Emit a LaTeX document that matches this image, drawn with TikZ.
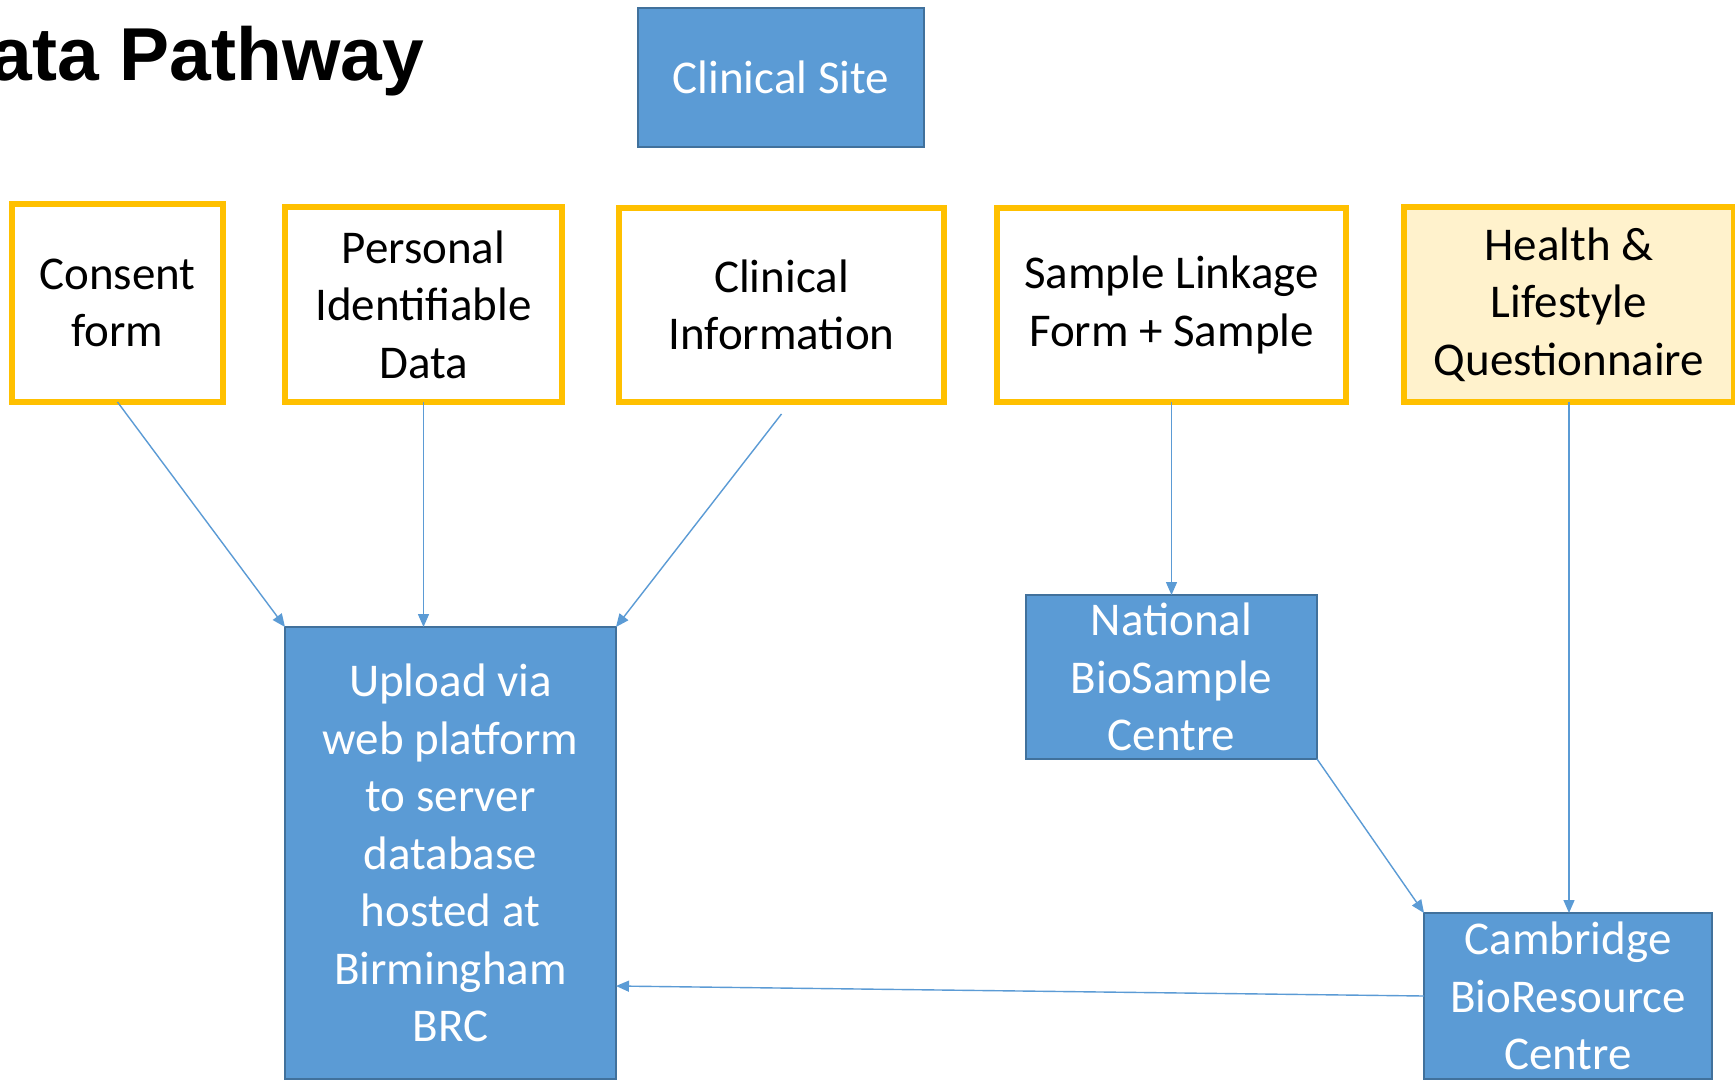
\documentclass[tikz,border=0pt]{standalone}
\usepackage{fontspec}
\setmainfont{Carlito}
\newfontfamily\titlefont{Liberation Sans}
\usetikzlibrary{arrows.meta}
\definecolor{boxblue}{HTML}{5B9BD5}
\definecolor{boxblueline}{HTML}{41719C}
\definecolor{goldline}{HTML}{FFC000}
\definecolor{paleyellow}{HTML}{FFF2CC}
\begin{document}
\begin{tikzpicture}[x=0.5pt,y=-0.5pt,
  txt/.style={font=\fontsize{23.5}{28.75}\selectfont, align=center, inner sep=0pt, outer sep=0pt},
  yellowbox/.style={txt, draw=goldline, line width=3pt, fill=white, text=black},
  bluebox/.style={txt, draw=boxblueline, line width=1pt, fill=boxblue, text=white},
  conn/.style={draw=boxblue, line width=0.7pt, -{Triangle[length=6.5pt,width=5.5pt]}}
]
\useasboundingbox (0,0) rectangle (1735,1082);
\fill[white] (0,0) rectangle (1735,1082);

\node[anchor=base west, inner sep=0pt, font=\titlefont\bfseries\fontsize{37.5}{45}\selectfont] (title) at (-64,80) {Data Pathway};

\node[bluebox, minimum width=143pt, minimum height=69.5pt] (site) at (781,77.5) {Clinical Site};

\node[yellowbox, minimum width=105.5pt, minimum height=99pt] (consent) at (117.5,303) {Consent\\form};
\node[yellowbox, minimum width=138.5pt, minimum height=97.5pt] (pid) at (423.5,304.5) {Personal\\Identifiable\\Data};
\node[yellowbox, minimum width=162.5pt, minimum height=97pt] (clin) at (781.5,305) {Clinical\\Information};
\node[yellowbox, minimum width=174.5pt, minimum height=97pt] (sample) at (1171.5,305) {Sample Linkage\\Form + Sample};
\node[yellowbox, fill=paleyellow, minimum width=165pt, minimum height=97.5pt] (health) at (1569,304.5) {Health \&\\Lifestyle\\Questionnaire};

\node[bluebox, minimum width=165.5pt, minimum height=226pt] (upload) at (450.5,853) {Upload via\\web platform\\to server\\database\\hosted at\\Birmingham\\BRC};
\node[bluebox, minimum width=145.5pt, minimum height=82pt] (nbc) at (1171.5,677) {National\\BioSample\\Centre};
\node[bluebox, minimum width=144pt, minimum height=83pt] (cbr) at (1568,996) {Cambridge\\BioResource\\Centre};

\coordinate (clinstart) at ([yshift=-6pt]clin.south);

\draw[conn] (consent.south) -- (upload.north west);
\draw[conn] (pid.south) -- (pid.south |- upload.north);
\draw[conn] (clinstart) -- (upload.north east);
\draw[conn] (sample.south) -- (nbc.north);
\draw[conn] (nbc.south east) -- (cbr.north west);
\draw[conn] (health.south) -- (health.south |- cbr.north);
\draw[conn] (cbr.west) -- ([yshift=-66.5pt]upload.east);
\end{tikzpicture}
\end{document}
